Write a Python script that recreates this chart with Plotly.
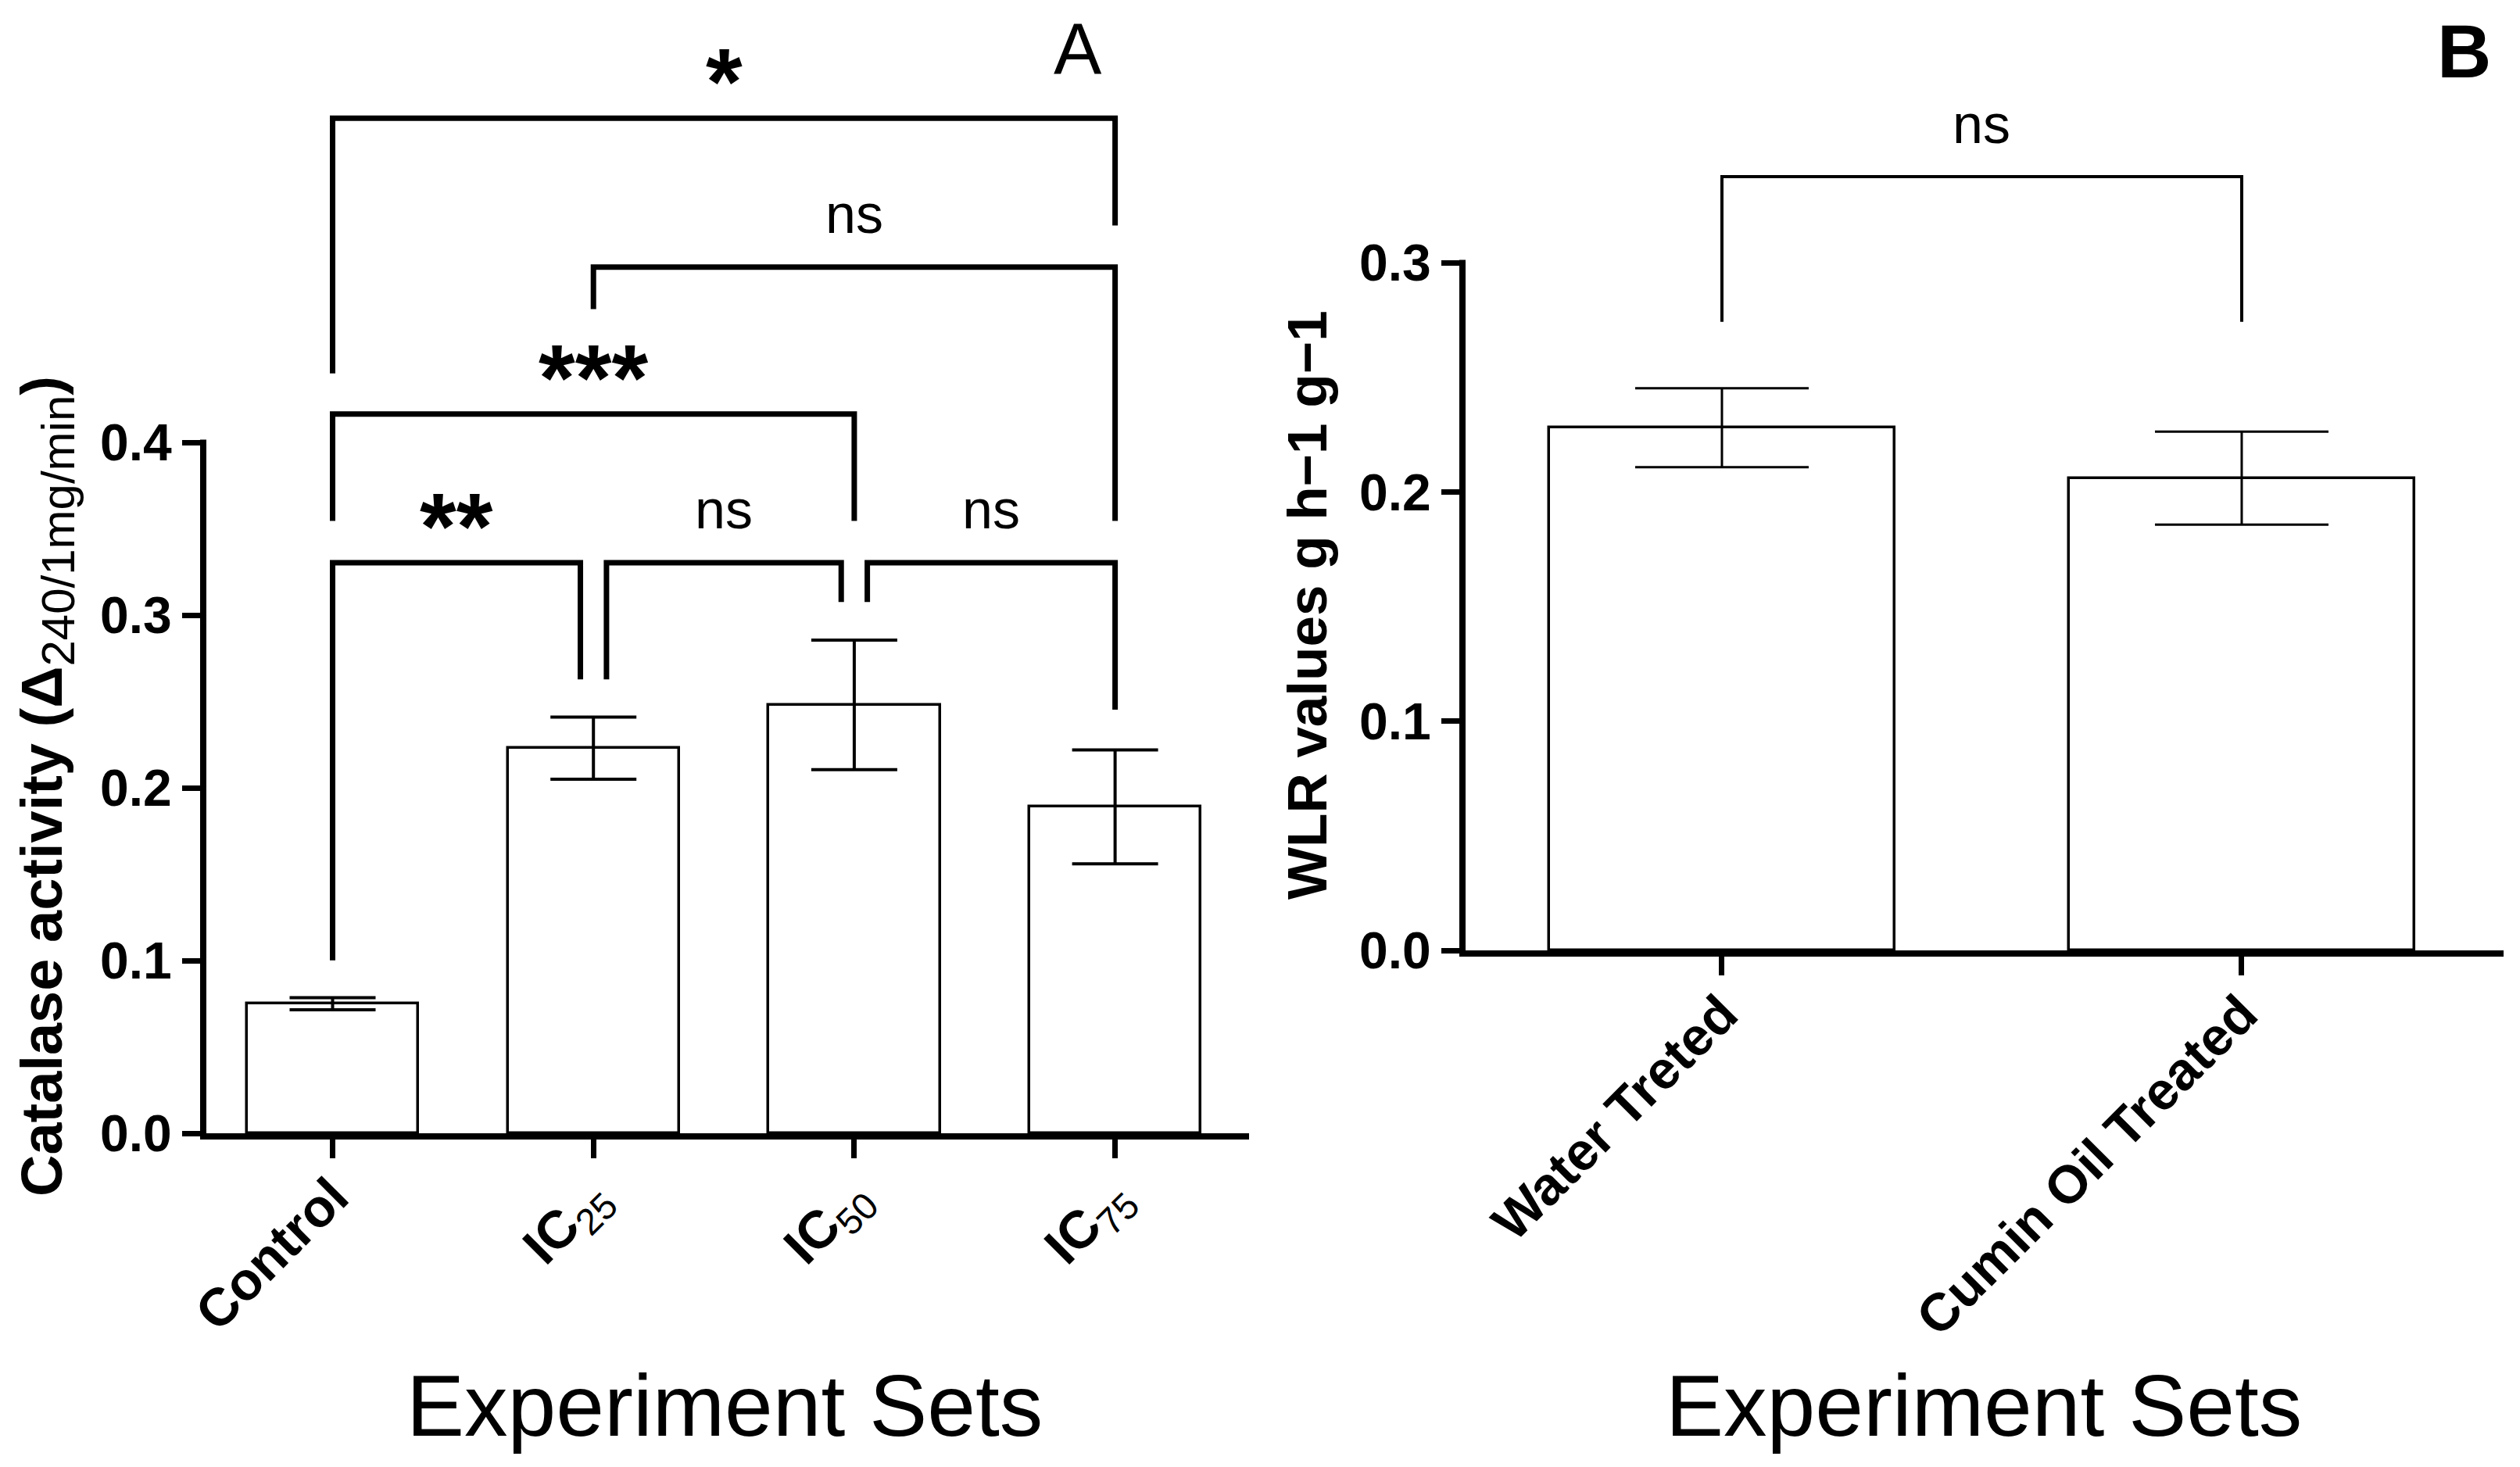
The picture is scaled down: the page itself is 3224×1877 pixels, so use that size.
import plotly.graph_objects as go

# ---------------- data ----------------
cats_a = ["Control", "IC25", "IC50", "IC75"]
labels_a = ["<b>Control</b>", "<b>IC</b><sub>25</sub>", "<b>IC</b><sub>50</sub>", "<b>IC</b><sub>75</sub>"]
mean_a = [0.075, 0.223, 0.248, 0.189]
sem_a = [0.0035, 0.018, 0.0375, 0.033]
yticks_a = [0.0, 0.1, 0.2, 0.3, 0.4]

cats_b = ["Water Treted", "Cumin Oil Treated"]
labels_b = ["<b>Water Treted</b>", "<b>Cumin Oil Treated</b>"]
mean_b = [0.228, 0.206]
sem_b = [0.0172, 0.0203]
yticks_b = [0.0, 0.1, 0.2, 0.3]

# pairwise comparisons: (group i, group j, result)
comp_a = [(0, 3, "*"), (1, 3, "ns"), (0, 2, "***"), (0, 1, "**"), (1, 2, "ns"), (2, 3, "ns")]
comp_b = [(0, 1, "ns")]

# ---------------- geometry / style ----------------
OFF = 8                      # page body margin
FW, FH = 3224 - OFF, 1877 - OFF
FONT = "Liberation Sans, Arial, Helvetica, sans-serif"


def px(xp):      # page x pixel -> paper
    return (xp - OFF) / FW


def py(yp):      # page y pixel -> paper
    return 1 - (yp - OFF) / FH


# bracket layout for each comparison (y in data units of its panel)
br_a = [
    dict(level=0.5877, ends=(0.4399, 0.5256), dx=(0, 0)),
    dict(level=0.5015, ends=(0.4772, 0.3545), dx=(0, 0)),
    dict(level=0.4164, ends=(0.3545, 0.3545), dx=(0, 0)),
    dict(level=0.3303, ends=(0.1001, 0.2628), dx=(0, -0.05)),
    dict(level=0.3303, ends=(0.2628, 0.3076), dx=(0.05, -0.05)),
    dict(level=0.3303, ends=(0.3076, 0.2452), dx=(0.05, 0)),
]
br_b = [dict(level=0.3375, ends=(0.2742, 0.2742), dx=(0, 0))]

# panel frames in page pixels
A = dict(x0=264, x1=1598, y0=1450, scale=2210, xr=(-0.484, 3.5136))
B = dict(x0=1875, x1=3203, y0=1216, scale=2933, xr=(-0.4932, 1.5038))


def dom(p):
    top_page = OFF  # plot area reaches the top of the figure
    return dict(x=[px(p["x0"]), px(p["x1"])], y=[py(p["y0"]), 1.0],
                ytop=(p["y0"] - top_page) / p["scale"], hpx=p["y0"] - top_page,
                wpx=p["x1"] - p["x0"])


dA, dB = dom(A), dom(B)

fig = go.Figure()

fig.add_trace(go.Bar(
    x=list(range(len(cats_a))), y=mean_a, width=0.657,
    marker=dict(color="white", line=dict(color="black", width=3.5)),
    error_y=dict(type="data", array=sem_a, visible=True, color="black", thickness=4, width=55),
    xaxis="x", yaxis="y", hovertext=cats_a, name="A",
))
fig.add_trace(go.Bar(
    x=list(range(len(cats_b))), y=mean_b, width=0.664,
    marker=dict(color="white", line=dict(color="black", width=3.5)),
    error_y=dict(type="data", array=sem_b, visible=True, color="black", thickness=3, width=111),
    xaxis="x2", yaxis="y2", hovertext=cats_b, name="B",
))

tickfont = dict(family=FONT, size=68, color="black")
ytickfont = dict(family=FONT, size=66, color="black", weight="bold")

common_x = dict(showline=True, linewidth=8, linecolor="black", ticks="outside", ticklen=24,
                tickwidth=7, tickcolor="black", showgrid=False, zeroline=False, automargin=False,
                tickangle=-45, tickfont=tickfont, ticklabelstandoff=-18, fixedrange=True)
common_y = dict(showline=False, ticks="outside", ticklen=30, tickwidth=7, tickcolor="black",
                showgrid=False, zeroline=False, tickformat=".1f", tickfont=ytickfont,
                automargin=False, fixedrange=True)

fig.update_layout(
    template="none",
    width=FW, height=FH, margin=dict(l=0, r=0, t=0, b=0, pad=0, autoexpand=False),
    plot_bgcolor="white", paper_bgcolor="white", showlegend=False, bargap=0,
    xaxis=dict(domain=dA["x"], range=list(A["xr"]), tickvals=list(range(len(cats_a))),
               ticktext=labels_a, anchor="y", **common_x),
    yaxis=dict(domain=dA["y"], range=[0, dA["ytop"]], tickvals=yticks_a, anchor="x", **common_y),
    xaxis2=dict(domain=dB["x"], range=list(B["xr"]), tickvals=list(range(len(cats_b))),
                ticktext=labels_b, anchor="y2", **common_x),
    yaxis2=dict(domain=dB["y"], range=[0, dB["ytop"]], tickvals=yticks_b, anchor="x2", **common_y),
)

shapes = []
annotations = []


def add_panel_marks(xname, yname, d, yticks, comps, brs, lw, ns_shift, star_shift):
    # y axis line, stops at the last tick
    hpx, wpx = d["hpx"], d["wpx"]
    shapes.append(dict(type="line", xref=f"{xname} domain", yref=f"{yname} domain",
                       x0=-4 / wpx, x1=-4 / wpx, y0=-8 / hpx,
                       y1=yticks[-1] / d["ytop"] + 3.5 / hpx,
                       line=dict(color="black", width=8)))
    for (i, j, txt), b in zip(comps, brs):
        xi = i + b["dx"][0]
        xj = j + b["dx"][1]
        path = f"M {xi},{b['ends'][0]} V {b['level']} H {xj} V {b['ends'][1]}"
        shapes.append(dict(type="path", path=path, xref=xname, yref=yname,
                           line=dict(color="black", width=lw)))
        star = "*" in txt
        annotations.append(dict(
            x=(xi + xj) / 2, y=b["level"], xref=xname, yref=yname, text=txt, showarrow=False,
            xanchor="center", yanchor="middle", yshift=star_shift if star else ns_shift,
            font=dict(family=FONT, size=120 if star else 70, color="black",
                      weight="bold" if star else "normal"),
        ))


add_panel_marks("x", "y", dA, yticks_a, comp_a, br_a, 7, 68, 47)
add_panel_marks("x2", "y2", dB, yticks_b, comp_b, br_b, 4, 67, 47)

# axis titles and panel letters (page pixel positions)
annotations += [
    dict(x=px(10), y=py(1006), xref="paper", yref="paper", showarrow=False, textangle=-90,
         text="<b>Catalase activity (Δ</b><sub><span style='font-size:60px'>240/1mg/min</span></sub><b>)</b>",
         font=dict(family=FONT, size=74, color="black"), xanchor="left", yanchor="middle"),
    dict(x=px(1672), y=py(774), xref="paper", yref="paper", showarrow=False, textangle=-90,
         text="<b>WLR values g h−1 g−1</b>",
         font=dict(family=FONT, size=71, color="black"), xanchor="center", yanchor="middle"),
    dict(x=px(927), y=py(1799), xref="paper", yref="paper", showarrow=False,
         text="Experiment Sets", font=dict(family=FONT, size=111, color="black"),
         xanchor="center", yanchor="middle"),
    dict(x=px(2538), y=py(1799), xref="paper", yref="paper", showarrow=False,
         text="Experiment Sets", font=dict(family=FONT, size=111, color="black"),
         xanchor="center", yanchor="middle"),
    dict(x=px(1379), y=py(10), xref="paper", yref="paper", showarrow=False,
         text="A", font=dict(family=FONT, size=92, color="black"),
         xanchor="center", yanchor="top"),
    dict(x=px(3152), y=py(10), xref="paper", yref="paper", showarrow=False,
         text="<b>B</b>", font=dict(family=FONT, size=96, color="black"),
         xanchor="center", yanchor="top"),
]

fig.update_layout(shapes=shapes, annotations=annotations)
fig.write_html("out.html")
